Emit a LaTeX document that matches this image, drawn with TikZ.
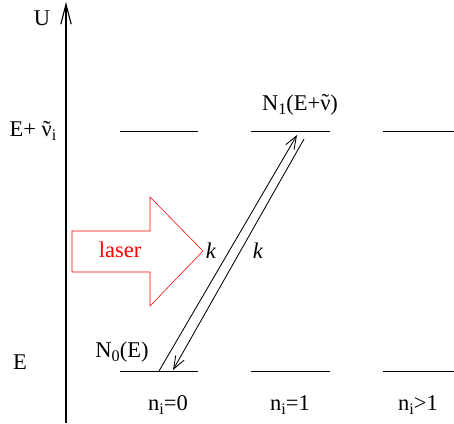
\documentclass[tikz,border=0pt]{standalone}
\usepackage{fontspec}
\setmainfont{Liberation Serif}
\usetikzlibrary{arrows.meta}
\newcommand{\lsub}[1]{\raisebox{-0.35ex}{\fontsize{11.5}{12}\selectfont #1}}
\newcommand{\tnu}{\ooalign{ν\cr\hidewidth\raisebox{0.05ex}{˜}\hidewidth\cr}}

\begin{document}
\begin{tikzpicture}[
    x=0.025cm, y=0.025cm,
    lbl/.style={font=\fontsize{16}{18}\selectfont, inner sep=0pt},
    level/.style={semithick},
    trans/.style={-{Straight Barb[length=3.2mm,width=2.4mm]}, semithick}
]
    \useasboundingbox (0,0) rectangle (454,423);

    % --- energy axis ---
    \coordinate (ax0) at (66,0);
    \coordinate (ax1) at (66,421);
    \draw[thick, -{Straight Barb[length=5mm,width=2.6mm]}] (ax0) -- (ax1);
    \node[lbl] (U) at (42,405) {U};
    \node[lbl] (Eup) at (33,292) {E+ \tnu\lsub{i}};
    \node[lbl] (Elow) at (20,61) {E};

    % --- levels ---
    \foreach \xa/\xb in {120/198, 251/330, 383/454}{
        \draw[level] (\xa,292) -- (\xb,292);
        \draw[level] (\xa,52) -- (\xb,52);
    }
    \node[lbl] (N1) at (300,318) {N\lsub{1}(E+\tnu)};
    \node[lbl] (N0) at (122,71) {N\lsub{0}(E)};
    \node[lbl] (n0) at (168,18) {n\lsub{i}=0};
    \node[lbl] (n1) at (290,18) {n\lsub{i}=1};
    \node[lbl] (n2) at (418,18) {n\lsub{i}>1};

    % --- laser ---
    \draw[red] (72,192) -- (150,192) -- (150,226) -- (203,172) -- (150,117) -- (150,151) -- (72,151) -- cycle;
    \node[lbl, red] (laser) at (120,173) {laser};

    % --- transitions ---
    \coordinate (up0) at (159,52);
    \coordinate (up1) at (297,288);
    \coordinate (dn0) at (304,284);
    \coordinate (dn1) at (173,53);
    \draw[trans] (up0) -- (up1);
    \draw[trans] (dn0) -- (dn1);
    \node[lbl] (kup) at (211,172) {\textit{k}};
    \node[lbl] (kdn) at (258,172) {\textit{k}};
\end{tikzpicture}
\end{document}
